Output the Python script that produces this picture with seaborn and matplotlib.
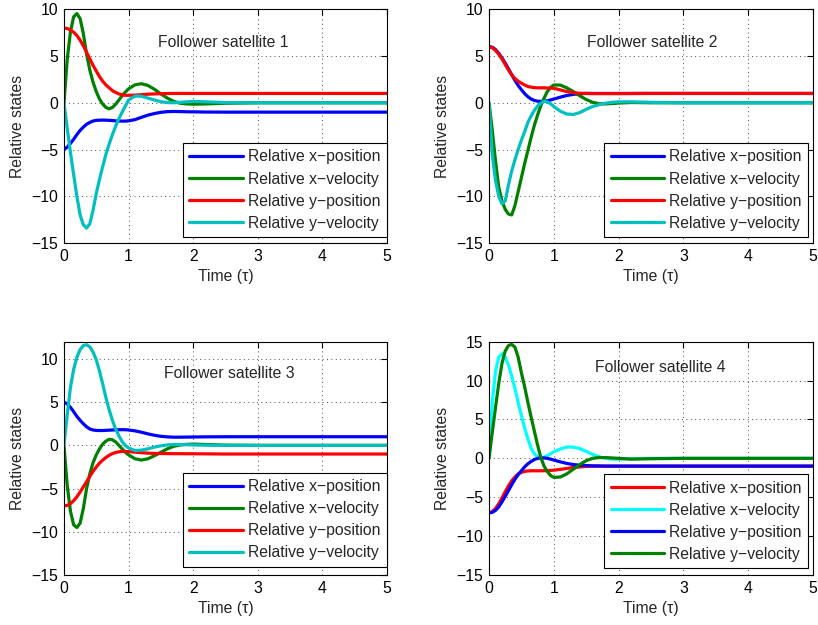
import matplotlib
matplotlib.use("Agg")
import matplotlib.pyplot as plt
import seaborn as sns

sns.set_style("white")
plt.rcParams.update({
    "font.size": 11,
    "axes.edgecolor": "black",
    "axes.linewidth": 0.8,
    "xtick.direction": "in",
    "ytick.direction": "in",
    "xtick.top": True,
    "ytick.right": True,
    "xtick.major.size": 4,
    "ytick.major.size": 4,
    "xtick.color": "black",
    "ytick.color": "black",
})
plt.rcParams["font.family"] = ["Liberation Sans", "DejaVu Sans"]

# Time samples (tau)
T = [0, 0.05, 0.1, 0.15, 0.2, 0.25, 0.3, 0.35, 0.4, 0.45, 0.5, 0.55, 0.6, 0.65, 0.7,
     0.75, 0.8, 0.85, 0.9, 0.95, 1.0, 1.1, 1.2, 1.3, 1.4, 1.5, 1.6, 1.7, 1.8, 1.9,
     2.0, 2.2, 2.5, 3.0, 3.5, 4.0, 4.5, 5.0]

# Follower satellite 1
p1_xpos = [-5.0, -4.75, -4.35, -3.9, -3.4, -2.95, -2.6, -2.3, -2.1, -1.95, -1.88, -1.86, -1.85,
           -1.86, -1.88, -1.9, -1.93, -1.95, -1.96, -1.96, -1.93, -1.8, -1.55, -1.32, -1.15,
           -1.02, -0.95, -0.93, -0.94, -0.96, -0.97, -0.99, -1.0, -1.0, -1.0, -1.0, -1.0, -1.0]
p1_xvel = [0, 4.6, 7.6, 9.2, 9.55, 9.0, 7.4, 5.2, 3.5, 2.2, 1.2, 0.4, -0.15, -0.5, -0.64, -0.5,
           -0.15, 0.3, 0.75, 1.15, 1.5, 1.92, 2.04, 1.85, 1.45, 0.95, 0.5, 0.15, -0.05, -0.12,
           -0.15, -0.12, -0.05, 0, 0, 0, 0, 0]
p1_ypos = [8.0, 7.95, 7.8, 7.55, 7.2, 6.7, 6.1, 5.4, 4.7, 4.0, 3.4, 2.8, 2.3, 1.9, 1.6, 1.3,
           1.1, 0.95, 0.85, 0.8, 0.8, 0.82, 0.87, 0.92, 0.95, 0.97, 0.99, 1.0, 1.0, 1.0, 1.0,
           1.0, 1.0, 1.0, 1.0, 1.0, 1.0, 1.0]
p1_yvel = [0, -2.7, -5.3, -7.7, -10.0, -12.0, -13.05, -13.4, -12.95, -11.5, -9.7, -8.2, -6.8,
           -5.5, -4.4, -3.4, -2.5, -1.7, -1.0, -0.35, 0.3, 0.72, 0.7, 0.5, 0.3, 0.12, 0.02, 0.0,
           0.05, 0.1, 0.15, 0.1, 0.02, 0, 0, 0, 0, 0]

# Follower satellite 2
p2_xpos = [6.0, 5.95, 5.7, 5.3, 4.8, 4.25, 3.65, 3.0, 2.4, 1.85, 1.4, 0.98, 0.65, 0.4, 0.25,
           0.17, 0.15, 0.17, 0.22, 0.3, 0.4, 0.6, 0.78, 0.9, 0.97, 1.0, 1.0, 1.0, 1.0, 1.0,
           1.0, 1.0, 1.0, 1.0, 1.0, 1.0, 1.0, 1.0]
p2_xvel = [0, -2.9, -6.2, -9.0, -10.5, -11.4, -11.9, -12.0, -11.0, -9.5, -8.0, -6.5, -5.1,
           -3.7, -2.4, -1.3, -0.3, 0.5, 1.2, 1.65, 1.9, 1.9, 1.6, 1.2, 0.75, 0.35, 0.05, -0.1,
           -0.12, -0.08, -0.03, 0.03, 0.0, 0, 0, 0, 0, 0]
p2_ypos = [6.0, 5.9, 5.6, 5.2, 4.7, 4.1, 3.5, 3.0, 2.6, 2.3, 2.1, 1.9, 1.75, 1.67, 1.62, 1.6,
           1.6, 1.6, 1.58, 1.57, 1.55, 1.38, 1.2, 1.08, 1.02, 1.0, 0.98, 0.98, 0.98, 0.98,
           0.98, 0.99, 1.0, 1.0, 1.0, 1.0, 1.0, 1.0]
p2_yvel = [0, -5.5, -8.3, -10.0, -10.8, -10.5, -8.8, -7.3, -6.1, -5.0, -4.0, -3.1, -2.1, -1.4,
           -0.8, -0.35, -0.05, 0.15, 0.1, -0.1, -0.4, -0.9, -1.2, -1.25, -1.05, -0.7, -0.4,
           -0.2, -0.05, 0.05, 0.1, 0.1, 0.05, 0, 0, 0, 0, 0]

# Follower satellite 3
p3_xpos = [5.0, 4.8, 4.4, 3.9, 3.35, 2.9, 2.5, 2.15, 1.9, 1.78, 1.73, 1.72, 1.72, 1.74, 1.76,
           1.78, 1.8, 1.81, 1.82, 1.81, 1.78, 1.68, 1.52, 1.33, 1.17, 1.05, 0.98, 0.95, 0.95,
           0.96, 0.97, 0.99, 1.0, 1.0, 1.0, 1.0, 1.0, 1.0]
p3_xvel = [0, -4.6, -7.6, -9.2, -9.5, -9.0, -7.3, -5.0, -3.3, -2.0, -1.1, -0.4, 0.15, 0.5, 0.7,
           0.65, 0.4, 0.0, -0.4, -0.8, -1.1, -1.55, -1.7, -1.55, -1.2, -0.8, -0.4, -0.1, 0.05,
           0.12, 0.15, 0.1, 0.03, 0, 0, 0, 0, 0]
p3_ypos = [-7.0, -6.95, -6.75, -6.4, -5.95, -5.4, -4.8, -4.2, -3.6, -3.0, -2.5, -2.05, -1.7,
           -1.4, -1.15, -0.95, -0.82, -0.74, -0.7, -0.7, -0.72, -0.78, -0.85, -0.9, -0.93,
           -0.94, -0.95, -0.96, -0.96, -0.97, -0.97, -0.98, -1.0, -1.0, -1.0, -1.0, -1.0, -1.0]
p3_yvel = [0, 3.5, 6.7, 8.8, 10.2, 11.1, 11.55, 11.65, 11.4, 10.8, 9.9, 8.6, 7.1, 5.5, 4.1,
           2.9, 1.9, 1.1, 0.45, 0.0, -0.3, -0.6, -0.55, -0.4, -0.2, -0.05, 0.05, 0.1, 0.1,
           0.08, 0.05, 0.02, 0, 0, 0, 0, 0, 0]

# Follower satellite 4
p4_xpos = [-7.0, -6.85, -6.45, -5.85, -5.1, -4.3, -3.55, -2.9, -2.4, -2.0, -1.8, -1.68, -1.62,
           -1.6, -1.6, -1.6, -1.6, -1.59, -1.58, -1.55, -1.52, -1.42, -1.3, -1.18, -1.1,
           -1.05, -1.02, -1.0, -1.0, -1.0, -1.0, -1.0, -1.0, -1.0, -1.0, -1.0, -1.0, -1.0]
p4_xvel = [0, 7.2, 11.2, 13.0, 13.45, 13.0, 12.0, 10.6, 9.0, 7.2, 5.5, 3.9, 2.5, 1.3, 0.6,
           0.2, 0.05, 0.15, 0.35, 0.6, 0.85, 1.2, 1.45, 1.45, 1.25, 0.9, 0.5, 0.2, 0.0, -0.1,
           -0.1, -0.05, 0, 0, 0, 0, 0, 0]
p4_ypos = [-7.0, -6.95, -6.7, -6.25, -5.6, -4.9, -4.15, -3.4, -2.7, -2.1, -1.6, -1.1, -0.7,
           -0.4, -0.15, 0.0, 0.05, 0.05, 0.0, -0.1, -0.22, -0.45, -0.65, -0.8, -0.88, -0.93,
           -0.96, -0.98, -1.0, -1.0, -1.0, -1.0, -1.0, -1.0, -1.0, -1.0, -1.0, -1.0]
p4_yvel = [0, 3.3, 6.5, 9.6, 12.2, 13.8, 14.5, 14.65, 14.3, 13.0, 11.0, 9.2, 7.2, 5.3, 3.5,
           1.7, 0.1, -1.0, -1.7, -2.2, -2.45, -2.4, -2.0, -1.4, -0.8, -0.3, 0.0, 0.1, 0.1,
           0.05, 0.0, -0.1, -0.05, 0, 0, 0, 0, 0]

LABELS = ["Relative x\u2212position", "Relative x\u2212velocity",
          "Relative y\u2212position", "Relative y\u2212velocity"]

BLUE = "#0000FF"
GREEN = "#008000"
RED = "#FF0000"
TEAL = "#00BFBF"
CYAN = "#00FFFF"

panels = [
    dict(pos=[0.0782, 0.6112, 0.3949, 0.3739], series=[p1_xpos, p1_xvel, p1_ypos, p1_yvel],
         colors=[BLUE, GREEN, RED, TEAL], ylim=(-15, 10), yticks=[-15, -10, -5, 0, 5, 10],
         title="Follower satellite 1", tpos=(1.46, 6.5), leg=(1.0, 0.026)),
    dict(pos=[0.5978, 0.6112, 0.3961, 0.3739], series=[p2_xpos, p2_xvel, p2_ypos, p2_yvel],
         colors=[BLUE, GREEN, RED, TEAL], ylim=(-15, 10), yticks=[-15, -10, -5, 0, 5, 10],
         title="Follower satellite 2", tpos=(1.52, 6.5), leg=(0.985, 0.026)),
    dict(pos=[0.0782, 0.08, 0.3949, 0.3733], series=[p3_xpos, p3_xvel, p3_ypos, p3_yvel],
         colors=[BLUE, GREEN, RED, TEAL], ylim=(-15, 12), yticks=[-15, -10, -5, 0, 5, 10],
         title="Follower satellite 3", tpos=(1.545, 8.3), leg=(1.0, 0.036)),
    dict(pos=[0.5978, 0.08, 0.3961, 0.3733], series=[p4_xpos, p4_xvel, p4_ypos, p4_yvel],
         colors=[RED, CYAN, BLUE, GREEN], ylim=(-15, 15), yticks=[-15, -10, -5, 0, 5, 10, 15],
         title="Follower satellite 4", tpos=(1.64, 11.7), leg=(0.985, 0.029)),
]

FS = 11.3

fig = plt.figure(figsize=(8.18, 6.25), dpi=100)

for p in panels:
    ax = fig.add_axes(p["pos"])
    for vals, col, lab in zip(p["series"], p["colors"], LABELS):
        sns.lineplot(x=T, y=vals, color=col, linewidth=2.3, label=lab, ax=ax)
    ax.set_xlim(0, 5)
    ax.set_ylim(*p["ylim"])
    ax.set_xticks([0, 1, 2, 3, 4, 5])
    ax.set_yticks(p["yticks"])
    ax.grid(True, color="0.3", linestyle=(0, (1, 3.5)), linewidth=0.7)
    for s in ax.spines.values():
        s.set_visible(True)
        s.set_color("black")
    ax.set_xlabel("Time (\u03c4)", fontsize=FS, labelpad=4)
    ax.set_ylabel("Relative states", fontsize=FS, labelpad=5)
    ax.tick_params(labelsize=FS, pad=4)
    ax.text(p["tpos"][0], p["tpos"][1], p["title"], fontsize=FS, ha="left", va="center")
    leg = ax.legend(loc="lower right", bbox_to_anchor=p["leg"], borderaxespad=0,
                    fancybox=False, framealpha=1, edgecolor="black", fontsize=FS,
                    handlelength=3.4, handletextpad=0.35, labelspacing=0.45,
                    borderpad=0.4)
    leg.get_frame().set_linewidth(0.8)

fig.savefig("out.png", dpi=100)
